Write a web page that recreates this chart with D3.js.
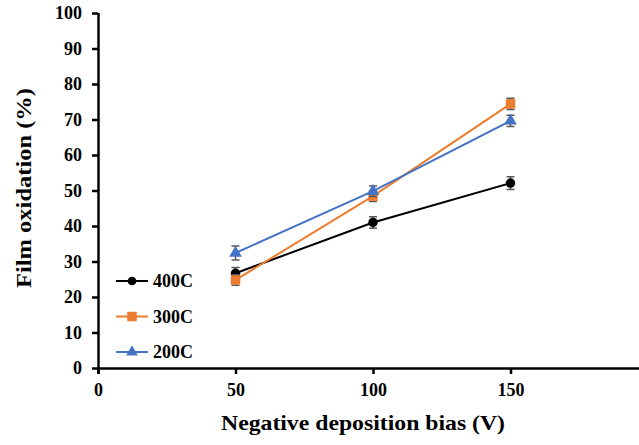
<!DOCTYPE html>
<html>
<head>
<meta charset="utf-8">
<script src="https://cdn.jsdelivr.net/npm/d3@7/dist/d3.min.js"></script>
<style>
  body { margin: 0; background: #fff; }
  svg text { font-family: "Liberation Serif", Tinos, "Times New Roman", Times, "DejaVu Serif", serif; font-weight: bold; }
</style>
</head>
<body>
<script>
var biasValues = [50, 100, 150];
var seriesNames = ['400C', '300C', '200C'];
var oxidation400 = [26.7, 41.0, 52.1];
var oxidation300 = [24.8, 48.4, 74.4];
var oxidation200 = [32.4, 49.8, 69.6];
var error400 = [1.6, 1.6, 1.8];
var error300 = [1.5, 1.5, 1.6];
var error200 = [2.0, 1.5, 1.6];
var xTicks = [0, 50, 100, 150];
var yTicks = [0, 10, 20, 30, 40, 50, 60, 70, 80, 90, 100];
var colors = ['#000000', '#ED7D31', '#4472C4'];
var shapes = [d3.symbolCircle, d3.symbolSquare, d3.symbolTriangle];

var w = 639, h = 445;
var serif = '"Liberation Serif", Tinos, "Times New Roman", Times, "DejaVu Serif", serif';

var series = [
    { name: seriesNames[0], values: oxidation400, errors: error400 },
    { name: seriesNames[1], values: oxidation300, errors: error300 },
    { name: seriesNames[2], values: oxidation200, errors: error200 }
];

var svg = d3.select('body').append('svg')
    .attr('width', w)
    .attr('height', h);

var x = d3.scaleLinear().domain([0, 200]).range([98, 648]);
var y = d3.scaleLinear().domain([0, 100]).range([368, 13]);

// lines
var line = d3.line()
    .x(function (d, i) { return x(biasValues[i]); })
    .y(function (d) { return y(d); });

series.forEach(function (s, k) {
    var g = svg.append('g').attr('class', 'series');
    g.append('path')
        .attr('d', line(s.values))
        .attr('fill', 'none')
        .attr('stroke', colors[k])
        .attr('stroke-width', 2);

    // error bars
    s.values.forEach(function (v, i) {
        var cx = x(biasValues[i]);
        var top = y(v + s.errors[i]), bot = y(v - s.errors[i]);
        g.append('path')
            .attr('d', 'M' + cx + ',' + top + 'V' + bot +
                'M' + (cx - 4) + ',' + top + 'H' + (cx + 4) +
                'M' + (cx - 4) + ',' + bot + 'H' + (cx + 4))
            .attr('stroke', '#595959')
            .attr('stroke-width', 1.5)
            .attr('fill', 'none');
    });

    g.selectAll('.pt')
        .data(s.values)
        .enter()
        .append('path')
        .attr('class', 'pt')
        .attr('d', d3.symbol().type(shapes[k]).size(k == 1 ? 90 : 70))
        .attr('transform', function (d, i) {
            return 'translate(' + x(biasValues[i]) + ',' + y(d) + ')';
        })
        .attr('fill', colors[k]);
});

// axes
var xAxis = svg.append('g')
    .attr('transform', 'translate(0,' + y(0) + ')')
    .call(d3.axisBottom(x).tickValues(xTicks).tickSize(6).tickPadding(9));
var yAxis = svg.append('g')
    .attr('transform', 'translate(' + x(0) + ',0)')
    .call(d3.axisLeft(y).tickValues(yTicks).tickSize(6).tickPadding(10));

[xAxis, yAxis].forEach(function (a) {
    a.attr('font-family', serif);
    a.select('.domain').attr('stroke', '#000').attr('stroke-width', 2.5);
    a.selectAll('.tick line').attr('stroke', '#000').attr('stroke-width', 2.5);
    a.selectAll('.tick text')
        .attr('fill', '#000')
        .style('font-size', '18px');
});
yAxis.select('.domain').attr('d', 'M0.5,' + y(100) + 'V' + y(0));
yAxis.selectAll('.tick line').attr('x1', 0);

// axis titles
svg.append('text')
    .attr('x', 363)
    .attr('y', 430)
    .attr('text-anchor', 'middle')
    .attr('textLength', 284)
    .attr('lengthAdjust', 'spacingAndGlyphs')
    .style('font-size', '21px')
    .text('Negative deposition bias (V)');

svg.append('text')
    .attr('transform', 'translate(31,188) rotate(-90)')
    .attr('text-anchor', 'middle')
    .attr('textLength', 200)
    .attr('lengthAdjust', 'spacingAndGlyphs')
    .style('font-size', '21px')
    .text('Film oxidation (%)');

// legend
var legend = svg.selectAll('.legend')
    .data(series)
    .enter()
    .append('g')
    .attr('class', 'legend')
    .attr('transform', function (d, i) {
        return 'translate(116,' + (281 + i * 35.5) + ')';
    });

legend.append('line')
    .attr('x1', 0).attr('x2', 32)
    .attr('stroke', function (d, i) { return colors[i]; })
    .attr('stroke-width', 2);
legend.append('path')
    .attr('d', function (d, i) { return d3.symbol().type(shapes[i]).size(i == 1 ? 90 : 60)(); })
    .attr('transform', 'translate(16,0)')
    .attr('fill', function (d, i) { return colors[i]; });
legend.append('text')
    .attr('x', 37)
    .attr('dy', '0.35em')
    .style('font-size', '18px')
    .text(function (d) { return d.name; });
</script>
</body>
</html>
